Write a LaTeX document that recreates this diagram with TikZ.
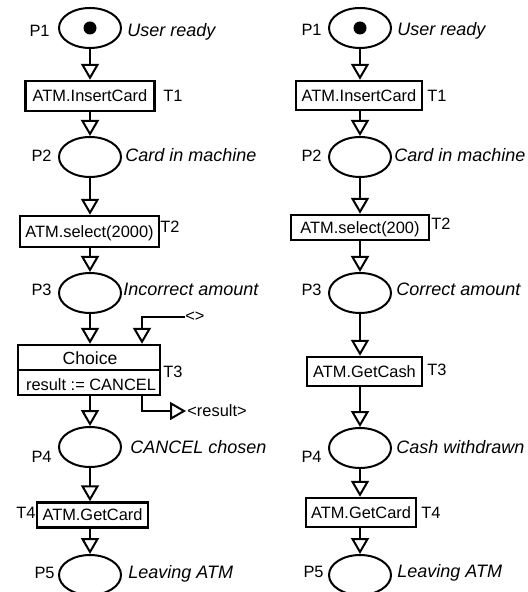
\documentclass[tikz,border=0pt]{standalone}
\usepackage{fontspec}
\setmainfont{Liberation Sans}
\usetikzlibrary{shapes.geometric,arrows.meta}
\begin{document}
\begin{tikzpicture}[x=0.5pt,y=-0.5pt,
  txt/.style={font=\fontsize{8.2}{10}\selectfont},
  place/.style={draw, ellipse, line width=1pt, minimum width=31pt, minimum height=20pt, inner sep=0pt},
  trans/.style={draw, rectangle, line width=1.2pt, inner sep=0pt, txt, text height=5.9pt, text depth=0pt},
  wd/.style={minimum width=#1*0.5pt},
  ht/.style={minimum height=#1*0.5pt},
  lbl/.style={inner sep=0pt, txt},
  ilbl/.style={inner sep=0pt, font=\fontsize{9}{11}\selectfont\itshape},
  arc/.style={line width=1pt, -{Triangle[open, length=8pt, width=9pt, line width=1pt]}},
  token/.style={circle, fill, inner sep=0pt, minimum size=6.5pt}
]
\useasboundingbox (0,0) rectangle (528,592);
\clip (0,0) rectangle (528,592);

% ---------------- left net ----------------
\node[place] (lp1) at (90,28) {};
\node[token] (ltok) at (lp1.center) {};
\node[trans, wd=129, ht=30] (lt1) at (90,96) {ATM.InsertCard};
\node[place] (lp2) at (90,157) {};
\node[trans, wd=139, ht=31] (lt2) at (89.5,231.5) {ATM.select(2000)};
\node[place] (lp3) at (90,293) {};
\node[draw, rectangle, line width=1.2pt, inner sep=0pt, wd=142, ht=50] (lt3) at (89,370) {};
\node[lbl, text height=5.9pt, text depth=0pt, font=\fontsize{8.8}{10}\selectfont] (lt3a) at (90,359) {Choice};
\node[lbl, text height=5.9pt, text depth=0pt] (lt3b) at (91,384.5) {result := CANCEL};
\node[place] (lp4) at (90,447) {};
\node[trans, wd=111, ht=25] (lt4) at (92.5,515) {ATM.GetCard};
\node[place] (lp5) at (90,575) {};

\draw[line width=1.2pt] (lt3.west) -- (lt3.east);

\node[lbl, anchor=base east] (llp1) at (50,37) {P1};
\node[ilbl, anchor=base west] (lnp1) at (127,37) {User ready};
\node[lbl, anchor=base west] (llt1) at (163,102) {T1};
\node[lbl, anchor=base east] (llp2) at (52,162) {P2};
\node[ilbl, anchor=base west] (lnp2) at (125,162) {Card in machine};
\node[lbl, anchor=base west] (llt2) at (160,233) {T2};
\node[lbl, anchor=base east] (llp3) at (52,295) {P3};
\node[ilbl, anchor=base west] (lnp3) at (123,295) {Incorrect amount};
\node[lbl, anchor=base west] (llt3) at (163,377) {T3};
\node[lbl, anchor=base east] (llp4) at (52,462) {P4};
\node[ilbl, anchor=base west] (lnp4) at (130,453) {CANCEL chosen};
\node[lbl, anchor=base east] (llt4) at (36,518) {T4};
\node[lbl, anchor=base east] (llp5) at (55,578) {P5};
\node[ilbl, anchor=base west] (lnp5) at (128,578) {Leaving ATM};
\node[lbl, anchor=west] (lang) at (185,317) {<>};
\node[lbl, anchor=west, inner xsep=0.5pt] (lres) at (186,411) {<result>};

\draw[arc] (lp1.south) -- (lp1.south |- lt1.north);
\draw[arc] (lp2.north |- lt1.south) -- (lp2.north);
\draw[arc] (lp2.south) -- (lp2.south |- lt2.north);
\draw[arc] (lp3.north |- lt2.south) -- (lp3.north);
\draw[arc] (lp3.south) -- (lp3.south |- lt3.north);
\draw[arc] (lp4.north |- lt3.south) -- (lp4.north);
\draw[arc] (lp4.south) -- (lp4.south |- lt4.north);
\draw[arc] (lp5.north |- lt4.south) -- (lp5.north);
\draw[arc] (lang.west) -| ([xshift=26.5pt]lt3.north);
\draw[arc] ([xshift=26.5pt]lt3.south) |- (lres.west);

% ---------------- right net ----------------
\node[place] (rp1) at (360,28) {};
\node[token] (rtok) at (rp1.center) {};
\node[trans, wd=126, ht=29] (rt1) at (359,95.5) {ATM.InsertCard};
\node[place] (rp2) at (360,157) {};
\node[trans, wd=138, ht=25] (rt2) at (360,227.5) {ATM.select(200)};
\node[place] (rp3) at (360,293) {};
\node[trans, wd=115, ht=29] (rt3) at (364.5,371.5) {ATM.GetCash};
\node[place] (rp4) at (360,448) {};
\node[trans, wd=110, ht=29] (rt4) at (361,512.5) {ATM.GetCard};
\node[place] (rp5) at (360,575) {};

\node[lbl, anchor=base east] (rlp1) at (322,36) {P1};
\node[ilbl, anchor=base west] (rnp1) at (397,36) {User ready};
\node[lbl, anchor=base west] (rlt1) at (427,102) {T1};
\node[lbl, anchor=base east] (rlp2) at (322,162) {P2};
\node[ilbl, anchor=base west] (rnp2) at (394,162) {Card in machine};
\node[lbl, anchor=base west] (rlt2) at (431,230) {T2};
\node[lbl, anchor=base east] (rlp3) at (322,296) {P3};
\node[ilbl, anchor=base west] (rnp3) at (396,296) {Correct amount};
\node[lbl, anchor=base west] (rlt3) at (427,375) {T3};
\node[lbl, anchor=base east] (rlp4) at (322,462) {P4};
\node[ilbl, anchor=base west] (rnp4) at (396,453) {Cash withdrawn};
\node[lbl, anchor=base west] (rlt4) at (421,518) {T4};
\node[lbl, anchor=base east] (rlp5) at (324,577) {P5};
\node[ilbl, anchor=base west] (rnp5) at (397,577) {Leaving ATM};

\draw[arc] (rp1.south) -- (rp1.south |- rt1.north);
\draw[arc] (rp2.north |- rt1.south) -- (rp2.north);
\draw[arc] (rp2.south) -- (rp2.south |- rt2.north);
\draw[arc] (rp3.north |- rt2.south) -- (rp3.north);
\draw[arc] (rp3.south) -- (rp3.south |- rt3.north);
\draw[arc] (rp4.north |- rt3.south) -- (rp4.north);
\draw[arc] (rp4.south) -- (rp4.south |- rt4.north);
\draw[arc] (rp5.north |- rt4.south) -- (rp5.north);
\end{tikzpicture}
\end{document}
